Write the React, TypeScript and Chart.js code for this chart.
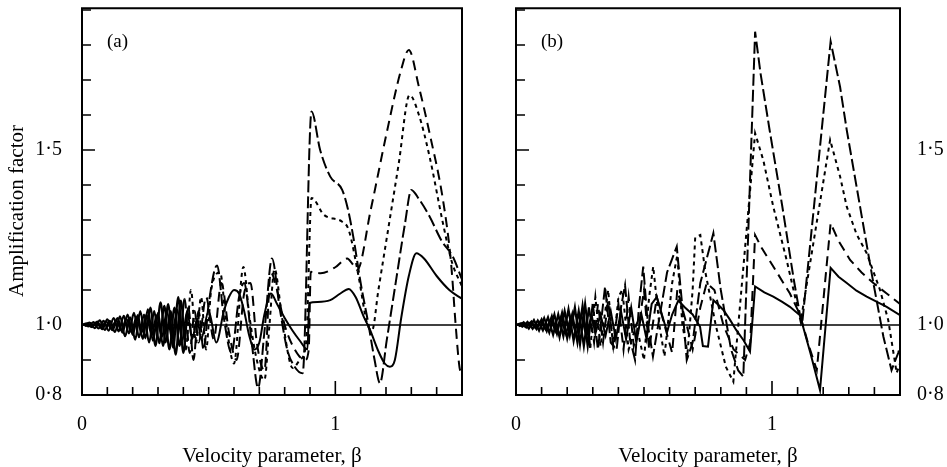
import React, { useEffect, useRef } from "react";
import { Chart, registerables } from "chart.js";

Chart.register(...registerables);

const FONT = '"Liberation Serif", "Times New Roman", serif';

// ---------- axis text ----------
const X_TITLE = "Velocity parameter, β";
const Y_TITLE = "Amplification factor";
const X_LABEL_VALUES = [0, 1];
const X_LABEL_TEXT = ["0", "1"];
const Y_LABEL_VALUES = [0.8, 1.0, 1.5];
const Y_LABEL_TEXT = ["0·8", "1·0", "1·5"];
const PANEL_LABELS = ["(a)", "(b)"];

// ---------- reference line ----------
const REF_X = [0, 1.5];
const REF_Y = [1, 1];

// ---------- low-beta sample grids ----------
const LOW_G0_A = [0, 0.02, 0.04, 0.06, 0.08, 0.1, 0.12, 0.14, 0.16, 0.18, 0.2, 0.22, 0.24, 0.26, 0.28, 0.3, 0.32, 0.34, 0.36, 0.38, 0.4, 0.42, 0.44];
const LOW_G1_A = [0.01, 0.03, 0.05, 0.07, 0.09, 0.11, 0.13, 0.15, 0.17, 0.19, 0.21, 0.23, 0.25, 0.27, 0.29, 0.31, 0.33, 0.35, 0.37, 0.39, 0.41, 0.43, 0.45];
const LOW_G2_A = [0.005, 0.025, 0.045, 0.065, 0.085, 0.105, 0.125, 0.145, 0.165, 0.185, 0.205, 0.225, 0.245, 0.265, 0.285, 0.305, 0.325, 0.345, 0.365, 0.385, 0.405, 0.425, 0.445];
const LOW_G3_A = [0.015, 0.035, 0.055, 0.075, 0.095, 0.115, 0.135, 0.155, 0.175, 0.195, 0.215, 0.235, 0.255, 0.275, 0.295, 0.315, 0.335, 0.355, 0.375, 0.395, 0.415, 0.435, 0.455];
const LOW_G0_B = [0, 0.02, 0.04, 0.06, 0.08, 0.1, 0.12, 0.14, 0.16, 0.18, 0.2, 0.22, 0.24, 0.26, 0.28, 0.3];
const LOW_G1_B = [0.01, 0.03, 0.05, 0.07, 0.09, 0.11, 0.13, 0.15, 0.17, 0.19, 0.21, 0.23, 0.25, 0.27, 0.29];
const LOW_G2_B = [0.005, 0.025, 0.045, 0.065, 0.085, 0.105, 0.125, 0.145, 0.165, 0.185, 0.205, 0.225, 0.245, 0.265, 0.285, 0.305];
const LOW_G3_B = [0.015, 0.035, 0.055, 0.075, 0.095, 0.115, 0.135, 0.155, 0.175, 0.195, 0.215, 0.235, 0.255, 0.275, 0.295];

// ---------- panel (a) ----------
const A_SOLID_X = [...LOW_G3_A, 0.47, 0.5, 0.53, 0.56, 0.58, 0.6, 0.62, 0.64, 0.66, 0.68, 0.7, 0.72, 0.746, 0.77, 0.8, 0.83, 0.86, 0.89, 0.897, 0.93, 0.98, 1.02, 1.053, 1.08, 1.112, 1.137, 1.17, 1.195, 1.215, 1.235, 1.26, 1.29, 1.32, 1.35, 1.4, 1.45, 1.5];
const A_SOLID_Y = [1.003, 0.996, 1.006, 0.993, 1.01, 0.99, 1.013, 0.985, 1.018, 0.98, 1.022, 0.978, 1.03, 0.97, 1.028, 0.965, 1.04, 0.96, 1.045, 0.955, 1.04, 0.96, 1.02,
  0.96, 1.04, 0.95, 1.04, 1.08, 1.1, 1.09, 1.04, 0.97, 0.93, 0.95, 1.03, 1.09, 1.06, 1.02, 0.985, 0.955, 0.93, 1.063, 1.066, 1.071, 1.09, 1.103, 1.08, 1.024, 0.986, 0.925, 0.89, 0.881, 0.9, 1.02, 1.14, 1.205, 1.19, 1.14, 1.1, 1.075];

const A_LONG_X = [...LOW_G2_A, 0.46, 0.49, 0.52, 0.55, 0.58, 0.61, 0.64, 0.665, 0.69, 0.72, 0.745, 0.77, 0.8, 0.84, 0.88, 0.895, 0.903, 0.942, 1.0, 1.047, 1.066, 1.086, 1.14, 1.2, 1.26, 1.29, 1.33, 1.372, 1.425, 1.457, 1.475, 1.49, 1.5];
const A_LONG_Y = [1.002, 0.996, 1.008, 0.99, 1.012, 0.984, 1.02, 0.982, 1.026, 0.976, 1.035, 0.965, 1.03, 0.95, 1.04, 0.948, 1.055, 0.93, 1.05, 0.94, 1.075, 0.92, 1.04,
  0.95, 1.08, 0.96, 1.12, 0.98, 0.9, 1.09, 1.12, 0.95, 0.87, 1.15, 1.1, 1.0, 0.93, 0.9, 0.93, 1.152, 1.148, 1.165, 1.19, 1.176, 1.157, 1.33, 1.54, 1.73, 1.786, 1.68, 1.548, 1.357, 1.176, 1.0, 0.88, 0.86];

const A_SHORT_X = [...LOW_G1_A, 0.47, 0.49, 0.51, 0.545, 0.57, 0.6, 0.637, 0.66, 0.69, 0.72, 0.74, 0.76, 0.79, 0.832, 0.86, 0.885, 0.906, 0.956, 1.027, 1.053, 1.092, 1.125, 1.145, 1.17, 1.21, 1.25, 1.293, 1.33, 1.372, 1.425, 1.46, 1.5];
const A_SHORT_Y = [0.997, 1.007, 0.991, 1.013, 0.986, 1.012, 0.98, 1.025, 0.968, 1.022, 0.958, 1.04, 0.962, 1.05, 0.94, 1.065, 0.95, 1.04, 0.915, 1.07, 0.93, 1.1, 0.95,
  1.08, 0.93, 1.1, 1.15, 1.0, 0.89, 1.166, 1.03, 0.9, 0.843, 1.0, 1.16, 1.02, 0.877, 0.9, 0.95, 1.363, 1.314, 1.295, 1.271, 1.138, 1.005, 0.985, 1.1, 1.28, 1.46, 1.657, 1.6, 1.481, 1.29, 1.18, 1.11];

const A_MED_X = [...LOW_G0_A, 0.46, 0.48, 0.5, 0.533, 0.56, 0.59, 0.62, 0.64, 0.67, 0.695, 0.72, 0.75, 0.78, 0.81, 0.84, 0.871, 0.906, 0.94, 0.98, 1.027, 1.05, 1.073, 1.1, 1.13, 1.155, 1.176, 1.203, 1.242, 1.275, 1.3, 1.33, 1.372, 1.42, 1.464, 1.5];
const A_MED_Y = [1.0, 1.005, 0.994, 1.01, 0.988, 1.016, 0.985, 1.02, 0.978, 1.03, 0.972, 1.028, 0.96, 1.045, 0.955, 1.035, 0.94, 1.06, 0.935, 1.08, 0.92, 1.05, 0.9,
  1.04, 0.93, 1.06, 1.17, 1.02, 0.92, 1.08, 1.12, 0.95, 0.82, 0.98, 1.19, 1.05, 0.93, 0.88, 0.862, 1.61, 1.5, 1.424, 1.386, 1.33, 1.243, 1.12, 1.005, 0.9, 0.834, 0.957, 1.138, 1.29, 1.386, 1.36, 1.31, 1.24, 1.195, 1.13];

// ---------- panel (b) ----------
const B_SOLID_X = [...LOW_G3_B, 0.31, 0.33, 0.35, 0.37, 0.39, 0.41, 0.43, 0.45, 0.47, 0.49, 0.51, 0.53, 0.55, 0.57, 0.59, 0.61, 0.634, 0.66, 0.69, 0.719, 0.73, 0.75, 0.771, 0.79, 0.81, 0.835, 0.86, 0.89, 0.914, 0.934, 0.97, 1.005, 1.04, 1.07, 1.109, 1.15, 1.1875, 1.229, 1.26, 1.292, 1.33, 1.37, 1.41, 1.448, 1.5];
const B_SOLID_Y = [1.002, 0.996, 1.006, 0.992, 1.01, 0.988, 1.015, 0.982, 1.02, 0.975, 1.025, 0.97, 1.03, 0.965, 1.03,
  0.975, 1.03, 0.97, 1.04, 0.96, 1.04, 0.96, 1.05, 0.95, 1.03, 0.96, 1.06, 1.08, 1.03, 0.98, 1.03, 1.07, 1.05, 1.03, 0.995, 0.94, 0.938, 1.071, 1.058, 1.043, 1.016, 0.986, 0.955, 0.924, 1.11, 1.093, 1.081, 1.066, 1.052, 1.028, 0.92, 0.814, 1.163, 1.138, 1.12, 1.098, 1.081, 1.066, 1.052, 1.028];

const B_LONG_X = [...LOW_G2_B, 0.32, 0.34, 0.36, 0.38, 0.4, 0.42, 0.44, 0.46, 0.48, 0.5, 0.52, 0.55, 0.58, 0.61, 0.63, 0.66, 0.69, 0.72, 0.745, 0.775, 0.81, 0.85, 0.895, 0.915, 0.934, 0.96, 1.005, 1.07, 1.109, 1.14, 1.175, 1.229, 1.26, 1.305, 1.35, 1.396, 1.448, 1.5];
const B_LONG_Y = [1.003, 0.995, 1.009, 0.989, 1.013, 0.985, 1.022, 0.972, 1.03, 0.968, 1.045, 0.955, 1.04, 0.94, 1.05, 0.95,
  1.06, 0.95, 1.07, 0.94, 1.06, 0.93, 1.08, 0.94, 1.0, 1.1, 0.93, 1.08, 1.0, 0.92, 1.1, 1.02, 0.93, 1.05, 1.12, 1.1, 1.0, 0.93, 0.9, 0.95, 1.257, 1.22, 1.167, 1.09, 1.03, 0.95, 0.871, 1.291, 1.24, 1.186, 1.15, 1.12, 1.09, 1.06];

const B_SHORT_X = [...LOW_G1_B, 0.31, 0.33, 0.36, 0.38, 0.4, 0.415, 0.44, 0.47, 0.5, 0.52, 0.536, 0.56, 0.58, 0.61, 0.63, 0.65, 0.67, 0.69, 0.7, 0.72, 0.74, 0.78, 0.82, 0.849, 0.934, 0.966, 1.005, 1.057, 1.096, 1.112, 1.227, 1.266, 1.292, 1.33, 1.37, 1.422, 1.454, 1.487, 1.5];
const B_SHORT_Y = [0.996, 1.008, 0.99, 1.014, 0.984, 1.02, 0.978, 1.03, 0.965, 1.04, 0.97, 1.05, 0.945, 1.06, 0.935,
  1.08, 0.94, 1.1, 0.93, 1.08, 1.1, 0.93, 1.0, 0.9, 1.08, 1.167, 1.0, 0.91, 1.12, 1.2, 1.0, 0.92, 1.1, 1.25, 1.257, 1.15, 1.0, 0.88, 0.838, 1.548, 1.471, 1.338, 1.186, 1.062, 1.01, 1.529, 1.424, 1.338, 1.26, 1.205, 1.1, 1.014, 0.863, 0.89];

const B_MED_X = [...LOW_G0_B, 0.32, 0.348, 0.37, 0.393, 0.41, 0.426, 0.445, 0.465, 0.48, 0.497, 0.515, 0.535, 0.56, 0.59, 0.628, 0.65, 0.667, 0.69, 0.72, 0.771, 0.8, 0.84, 0.868, 0.888, 0.934, 0.955, 0.99, 1.04, 1.085, 1.109, 1.118, 1.229, 1.266, 1.292, 1.344, 1.396, 1.435, 1.467, 1.493, 1.5];
const B_MED_Y = [1.0, 1.005, 0.993, 1.01, 0.988, 1.016, 0.982, 1.025, 0.975, 1.035, 0.962, 1.03, 0.95, 1.055, 0.94, 1.06,
  0.93, 1.11, 0.95, 0.929, 1.05, 1.114, 0.96, 0.9, 1.05, 1.167, 1.0, 0.91, 1.02, 1.15, 1.224, 1.05, 0.9, 0.95, 1.12, 1.262, 1.1, 0.93, 0.87, 0.852, 1.838, 1.72, 1.56, 1.34, 1.13, 1.03, 1.005, 1.81, 1.68, 1.557, 1.338, 1.12, 0.967, 0.871, 0.92, 0.94];

const pts = (xs: number[], ys: number[]) => xs.map((x, i) => ({ x, y: ys[i] }));

const near = (a: number, b: number) => Math.abs(a - b) < 1e-6;

const frameTicks = {
  id: "frameTicks",
  afterDraw(chart: any, _args: any, opts: any) {
    const { ctx, chartArea: ca, scales } = chart;
    ctx.save();
    ctx.strokeStyle = "#000";
    ctx.lineWidth = 2;
    ctx.strokeRect(ca.left, ca.top, ca.right - ca.left, ca.bottom - ca.top);
    ctx.lineWidth = 1.6;
    ctx.beginPath();
    const xs = scales.x;
    for (const t of xs.ticks) {
      const px = xs.getPixelForValue(t.value);
      const major = near(t.value, Math.round(t.value));
      const len = major ? 14 : 8;
      ctx.moveTo(px, ca.bottom);
      ctx.lineTo(px, ca.bottom - len);
    }
    const ys = scales.y;
    for (const t of ys.ticks) {
      if (t.value > ys.max + 1e-9) continue;
      const py = ys.getPixelForValue(t.value);
      const major = near(t.value * 2, Math.round(t.value * 2));
      const len = major ? 13 : 9;
      ctx.moveTo(ca.left, py);
      ctx.lineTo(ca.left + len, py);
    }
    ctx.stroke();
    ctx.fillStyle = "#000";
    ctx.font = `19px ${FONT}`;
    ctx.textAlign = "left";
    ctx.textBaseline = "alphabetic";
    ctx.fillText(opts.label, ca.left + 25, ca.top + 39);
    if (opts.yTitle) {
      ctx.save();
      ctx.font = `21px ${FONT}`;
      ctx.translate(17, 211);
      ctx.rotate(-Math.PI / 2);
      ctx.textAlign = "center";
      ctx.textBaseline = "middle";
      ctx.fillText(opts.yTitle, 0, 0);
      ctx.restore();
    }
    ctx.restore();
  },
};

function buildConfig(panel: "a" | "b"): any {
  const isA = panel === "a";
  const solid = isA ? pts(A_SOLID_X, A_SOLID_Y) : pts(B_SOLID_X, B_SOLID_Y);
  const long = isA ? pts(A_LONG_X, A_LONG_Y) : pts(B_LONG_X, B_LONG_Y);
  const short = isA ? pts(A_SHORT_X, A_SHORT_Y) : pts(B_SHORT_X, B_SHORT_Y);
  const med = isA ? pts(A_MED_X, A_MED_Y) : pts(B_MED_X, B_MED_Y);
  const edge = isA ? 0.42 : 0.3;
  const line = (data: any[], dash: number[], width = 2) => ({
    data,
    borderColor: "#000",
    backgroundColor: "#000",
    borderWidth: width,
    borderDash: dash,
    pointRadius: 0,
    fill: false,
    tension: 0,
    cubicInterpolationMode: isA ? "monotone" : "default",
    segment: {
      borderDash: (c: any) => (c.p1.parsed.x <= edge ? [] : undefined),
      borderWidth: (c: any) => (c.p1.parsed.x <= edge && dash.length ? 2.2 : undefined),
    },
  });
  return {
    type: "line",
    data: {
      datasets: [
        line(pts(REF_X, REF_Y), [], 1.5),
        line(solid, []),
        line(long, [10, 6]),
        line(short, [4, 4]),
        line(med, [12, 4]),
      ],
    },
    options: {
      animation: false,
      responsive: false,
      events: [],
      layout: {
        padding: isA
          ? { left: 0, right: 15, top: 8.25, bottom: 0 }
          : { left: 36, right: 0, top: 8.25, bottom: 0 },
      },
      plugins: {
        legend: { display: false },
        tooltip: { enabled: false },
        frameTicks: { label: isA ? PANEL_LABELS[0] : PANEL_LABELS[1], yTitle: isA ? Y_TITLE : "" },
      },
      scales: {
        x: {
          type: "linear",
          position: "bottom",
          min: 0,
          max: 1.5,
          grid: { display: false, drawTicks: false },
          border: { display: false },
          ticks: {
            stepSize: 0.1,
            autoSkip: false,
            maxRotation: 0,
            padding: 18,
            color: "#000",
            font: { family: FONT, size: 20 },
            callback: (v: number) => {
              const i = X_LABEL_VALUES.findIndex((t) => near(t, v));
              return i >= 0 ? X_LABEL_TEXT[i] : "";
            },
          },
          title: {
            display: true,
            text: X_TITLE,
            color: "#000",
            font: { family: FONT, size: 21 },
            padding: { top: 0, bottom: -2 },
          },
          afterFit: (s: any) => {
            s.height = 72;
          },
        },
        y: {
          type: "linear",
          position: isA ? "left" : "right",
          min: 0.8,
          max: 1.905,
          grid: { display: false, drawTicks: false },
          border: { display: false },
          ticks: {
            stepSize: 0.1,
            includeBounds: false,
            autoSkip: false,
            padding: isA ? 20 : 17,
            color: "#000",
            font: { family: FONT, size: 20 },
            callback: (v: number) => {
              const i = Y_LABEL_VALUES.findIndex((t) => near(t, v));
              return i >= 0 ? Y_LABEL_TEXT[i] : "";
            },
          },
          title: { display: false },
          afterFit: (s: any) => {
            s.width = isA ? 82 : 47;
            s.paddingTop = 0;
            s.paddingBottom = 0;
          },
        },
      },
    },
    plugins: [frameTicks],
  };
}

export default function App() {
  const refA = useRef<HTMLCanvasElement>(null);
  const refB = useRef<HTMLCanvasElement>(null);
  useEffect(() => {
    const a = new Chart(refA.current as HTMLCanvasElement, buildConfig("a"));
    const b = new Chart(refB.current as HTMLCanvasElement, buildConfig("b"));
    return () => {
      a.destroy();
      b.destroy();
    };
  }, []);
  return (
    <div style={{ position: "fixed", left: 0, top: 0, width: 947, height: 467, background: "#fff" }}>
      <canvas ref={refA} width={480} height={467} style={{ position: "absolute", left: 0, top: 0, width: 480, height: 467 }} />
      <canvas ref={refB} width={467} height={467} style={{ position: "absolute", left: 480, top: 0, width: 467, height: 467 }} />
    </div>
  );
}
